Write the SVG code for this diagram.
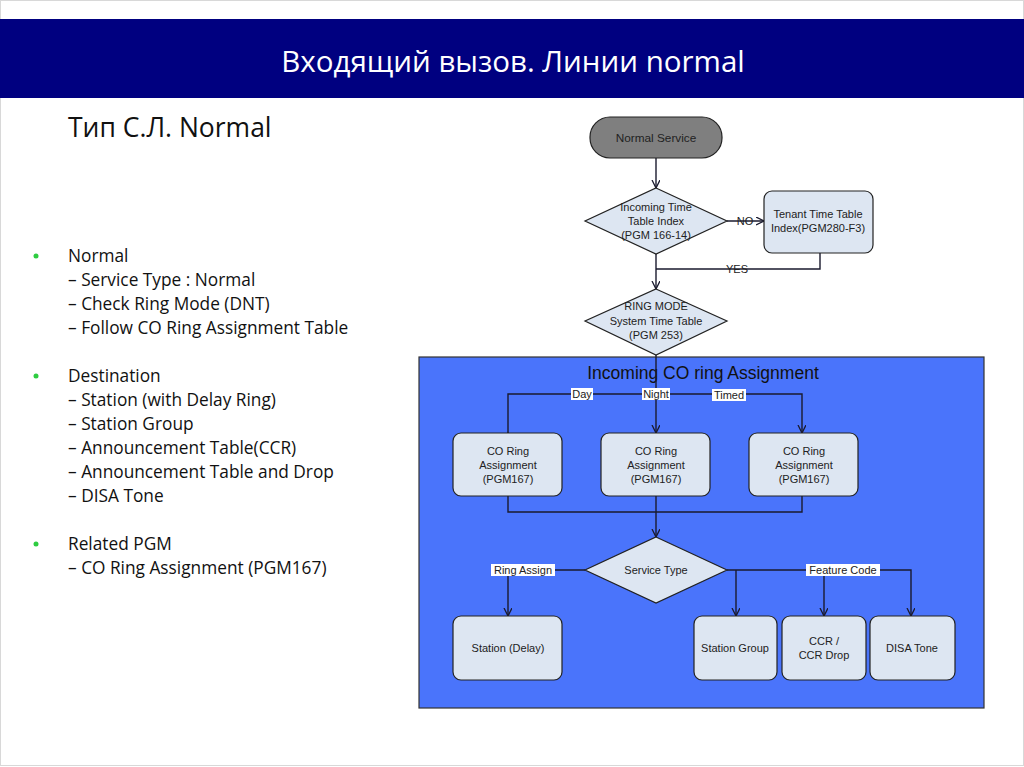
<svg xmlns="http://www.w3.org/2000/svg" width="1024" height="767" viewBox="0 0 1024 767">
<defs>
<marker id="arr" markerWidth="10" markerHeight="10" refX="8" refY="4" orient="auto" markerUnits="userSpaceOnUse">
<path d="M0,0 L8,4 L0,8" fill="none" stroke="#1a1a2e" stroke-width="1.3"/>
</marker>
</defs>
<style>
.hdr{font-family:"Open Sans","Noto Sans",sans-serif;font-size:29.5px;fill:#ffffff}
.sub{font-family:"Open Sans","Noto Sans",sans-serif;font-size:26.5px;fill:#111}
.lst{font-family:"Open Sans","Noto Sans",sans-serif;font-size:17.3px;fill:#111}
.n{font-family:"Liberation Sans",Arial,sans-serif;font-size:11px;fill:#222;text-anchor:middle}
.lbl{font-family:"Liberation Sans",Arial,sans-serif;font-size:11px;fill:#222;text-anchor:middle}
.box{fill:#dde6f2;stroke:#222;stroke-width:1.2}
.ln{fill:none;stroke:#1a1a2e;stroke-width:1.4}
.lbg{fill:#ffffff}
</style>
<rect x="0" y="0" width="1024" height="767" fill="#ffffff"/>
<rect x="0.5" y="0.5" width="1023" height="765" fill="none" stroke="#d8d8d8"/>
<rect x="0" y="19" width="1024" height="79" fill="#000080"/>
<text class="hdr" x="513" y="72" text-anchor="middle">Входящий вызов. Линии normal</text>
<text class="sub" x="68" y="137">Тип С.Л. Normal</text>
<g id="list">
<circle cx="36" cy="256" r="2.5" fill="#2ecc40"/>
<circle cx="36" cy="376" r="2.5" fill="#2ecc40"/>
<circle cx="36" cy="544" r="2.5" fill="#2ecc40"/>
<text class="lst" x="68" y="262">Normal</text>
<text class="lst" x="68" y="286">– Service Type : Normal</text>
<text class="lst" x="68" y="310">– Check Ring Mode (DNT)</text>
<text class="lst" x="68" y="334">– Follow CO Ring Assignment Table</text>
<text class="lst" x="68" y="382">Destination</text>
<text class="lst" x="68" y="406">– Station (with Delay Ring)</text>
<text class="lst" x="68" y="430">– Station Group</text>
<text class="lst" x="68" y="454">– Announcement Table(CCR)</text>
<text class="lst" x="68" y="478">– Announcement Table and Drop</text>
<text class="lst" x="68" y="502">– DISA Tone</text>
<text class="lst" x="68" y="550">Related PGM</text>
<text class="lst" x="68" y="574">– CO Ring Assignment (PGM167)</text>
</g>
<g id="container">
<rect x="419" y="357" width="565" height="351" fill="#4a74fb" stroke="#333" stroke-width="1.2"/>
<text x="703" y="379" font-family="Liberation Sans,Arial,sans-serif" font-size="17.5" fill="#111" text-anchor="middle">Incoming CO ring Assignment</text>
</g>
<g id="connectors">
<line class="ln" x1="656" y1="158" x2="656" y2="188" marker-end="url(#arr)"/>
<line class="ln" x1="727" y1="221" x2="764" y2="221" marker-end="url(#arr)"/>
<polyline class="ln" points="820,253 820,269 656,269"/>
<line class="ln" x1="656" y1="254" x2="656" y2="289" marker-end="url(#arr)"/>
<line class="ln" x1="656" y1="355" x2="656" y2="433" marker-end="url(#arr)"/>
<polyline class="ln" points="508,433 508,394 802,394 802,433" marker-start="url(#arr)" marker-end="url(#arr)"/>
<polyline class="ln" points="508,496 508,512 802,512 802,496"/>
<line class="ln" x1="656" y1="496" x2="656" y2="537" marker-end="url(#arr)"/>
<polyline class="ln" points="585,570 508,570 508,616" marker-end="url(#arr)"/>
<polyline class="ln" points="727,570 911,570 911,616" marker-end="url(#arr)"/>
<line class="ln" x1="736" y1="570" x2="736" y2="616" marker-end="url(#arr)"/>
<line class="ln" x1="824" y1="570" x2="824" y2="616" marker-end="url(#arr)"/>
<text class="lbl" x="745" y="225">NO</text>
<text class="lbl" x="737" y="273">YES</text>
<rect class="lbg" x="571" y="388" width="22" height="12"/>
<text class="lbl" x="582" y="398">Day</text>
<rect class="lbg" x="642" y="388" width="28" height="12"/>
<text class="lbl" x="656" y="398">Night</text>
<rect class="lbg" x="712" y="389" width="34" height="12"/>
<text class="lbl" x="729" y="399">Timed</text>
<rect class="lbg" x="491" y="564" width="64" height="12"/>
<text class="lbl" x="523" y="574">Ring Assign</text>
<rect class="lbg" x="806" y="564" width="74" height="12"/>
<text class="lbl" x="843" y="574">Feature Code</text>
</g>
<g id="normal-service">
<rect x="590" y="117" width="132" height="41" rx="20" fill="#7f7f7f" stroke="#222" stroke-width="1.2"/>
<text class="n" x="656" y="142" style="font-size:11.8px">Normal Service</text>
</g>
<g id="incoming-time">
<polygon class="box" points="656,188 727,221 656,254 585,221"/>
<text class="n" x="656" y="211">Incoming Time</text>
<text class="n" x="656" y="225">Table Index</text>
<text class="n" x="656" y="239">(PGM 166-14)</text>
</g>
<g id="tenant">
<rect class="box" x="764" y="191" width="109" height="62" rx="8"/>
<text class="n" x="818" y="218">Tenant Time Table</text>
<text class="n" x="818" y="232">Index(PGM280-F3)</text>
</g>
<g id="ring-mode">
<polygon class="box" points="656,289 727,321 656,355 585,321"/>
<text class="n" x="656" y="310">RING MODE</text>
<text class="n" x="656" y="325">System Time Table</text>
<text class="n" x="656" y="339">(PGM 253)</text>
</g>
<g id="co-ring-day">
<rect class="box" x="453" y="433" width="109" height="63" rx="8"/>
<text class="n" x="508" y="455">CO Ring</text>
<text class="n" x="508" y="469">Assignment</text>
<text class="n" x="508" y="483">(PGM167)</text>
</g>
<g id="co-ring-night">
<rect class="box" x="601" y="433" width="109" height="63" rx="8"/>
<text class="n" x="656" y="455">CO Ring</text>
<text class="n" x="656" y="469">Assignment</text>
<text class="n" x="656" y="483">(PGM167)</text>
</g>
<g id="co-ring-timed">
<rect class="box" x="749" y="433" width="109" height="63" rx="8"/>
<text class="n" x="804" y="455">CO Ring</text>
<text class="n" x="804" y="469">Assignment</text>
<text class="n" x="804" y="483">(PGM167)</text>
</g>
<g id="service-type">
<polygon class="box" points="656,537 727,570 656,603 585,570"/>
<text class="n" x="656" y="574">Service Type</text>
</g>
<g id="station-delay">
<rect class="box" x="453" y="616" width="109" height="64" rx="8"/>
<text class="n" x="508" y="652">Station (Delay)</text>
</g>
<g id="station-group">
<rect class="box" x="694" y="616" width="83" height="64" rx="8"/>
<text class="n" x="735" y="652">Station Group</text>
</g>
<g id="ccr">
<rect class="box" x="782" y="616" width="84" height="64" rx="8"/>
<text class="n" x="824" y="645">CCR /</text>
<text class="n" x="824" y="659">CCR Drop</text>
</g>
<g id="disa">
<rect class="box" x="870" y="616" width="85" height="64" rx="8"/>
<text class="n" x="912" y="652">DISA Tone</text>
</g>
</svg>
